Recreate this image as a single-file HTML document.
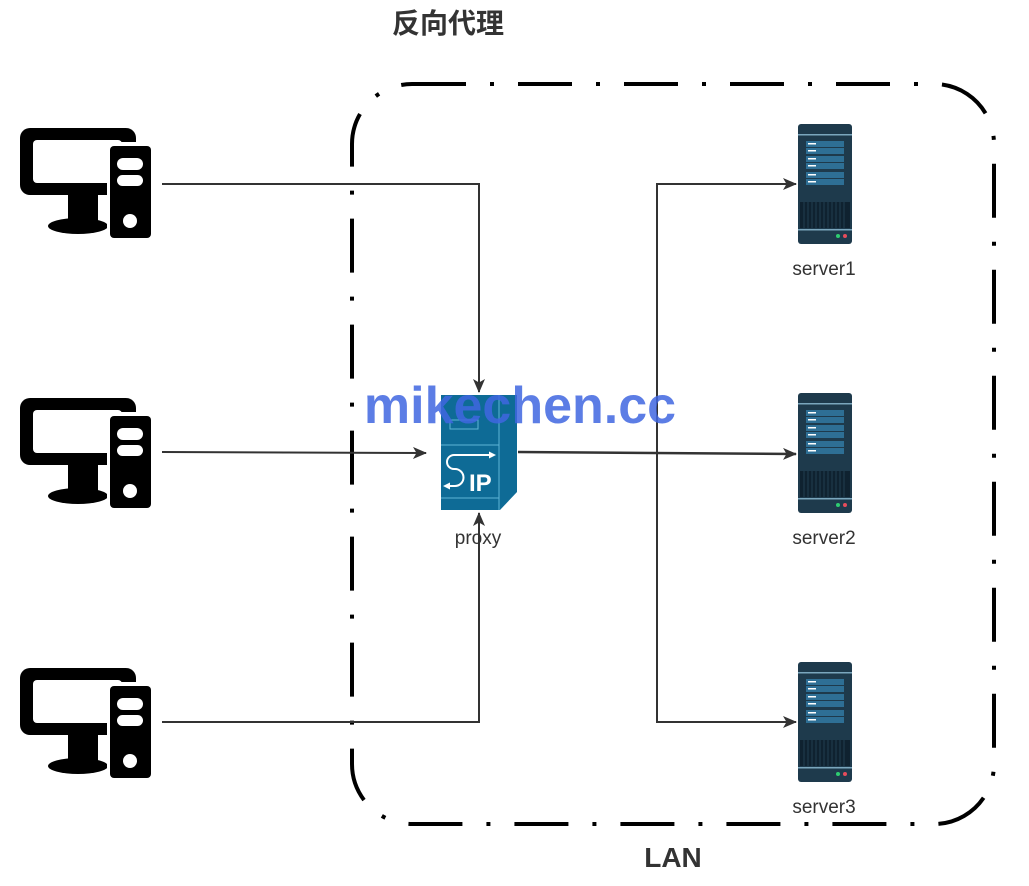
<!DOCTYPE html>
<html><head><meta charset="utf-8"><style>
html,body{margin:0;padding:0;background:#fff;}
svg{display:block;}
</style></head><body>
<svg width="1029" height="886" viewBox="0 0 1029 886" xmlns="http://www.w3.org/2000/svg">
<defs>
<g id="pc">
  <rect x="20" y="128" width="116" height="67" rx="10" fill="#000"/>
  <rect x="33" y="140" width="89" height="43" rx="4" fill="#fff"/>
  <rect x="68" y="192" width="30" height="30" fill="#000"/>
  <ellipse cx="78" cy="226" rx="30" ry="8" fill="#000"/>
  <rect x="107" y="142" width="47" height="100" fill="#fff"/>
  <rect x="110" y="146" width="41" height="92" rx="4" fill="#000"/>
  <rect x="117" y="158" width="26" height="12" rx="6" fill="#fff"/>
  <rect x="117" y="175" width="26" height="11" rx="5.5" fill="#fff"/>
  <circle cx="130" cy="221" r="7" fill="#fff"/>
</g>
<g id="srv">
  <rect x="798" y="124" width="54" height="120" rx="3" fill="#1e3a4c"/>
  <rect x="798" y="134" width="54" height="1.5" fill="#7aa6bd"/>
  <rect x="806" y="141" width="38" height="6" fill="#2e6f95"/>
  <rect x="806" y="148" width="38" height="6" fill="#2e6f95"/>
  <rect x="806" y="156" width="38" height="6" fill="#2e6f95"/>
  <rect x="806" y="163" width="38" height="6" fill="#2e6f95"/>
  <rect x="806" y="172" width="38" height="6" fill="#2e6f95"/>
  <rect x="806" y="179" width="38" height="6" fill="#2e6f95"/>
  <rect x="808" y="143" width="8" height="1.5" fill="#fff"/>
  <rect x="808" y="150" width="8" height="1.5" fill="#fff"/>
  <rect x="808" y="158" width="8" height="1.5" fill="#fff"/>
  <rect x="808" y="165" width="8" height="1.5" fill="#fff"/>
  <rect x="808" y="174" width="8" height="1.5" fill="#fff"/>
  <rect x="808" y="181" width="8" height="1.5" fill="#fff"/>
  <rect x="800" y="202" width="50" height="26" fill="#0f2230"/>
  <g stroke="#1e3a4c" stroke-width="1.2">
    <line x1="804" y1="202" x2="804" y2="228"/><line x1="808" y1="202" x2="808" y2="228"/>
    <line x1="812" y1="202" x2="812" y2="228"/><line x1="816" y1="202" x2="816" y2="228"/>
    <line x1="820" y1="202" x2="820" y2="228"/><line x1="824" y1="202" x2="824" y2="228"/>
    <line x1="828" y1="202" x2="828" y2="228"/><line x1="832" y1="202" x2="832" y2="228"/>
    <line x1="836" y1="202" x2="836" y2="228"/><line x1="840" y1="202" x2="840" y2="228"/>
    <line x1="844" y1="202" x2="844" y2="228"/>
  </g>
  <rect x="798" y="229" width="54" height="1.5" fill="#7aa6bd"/>
  <circle cx="838" cy="236" r="2" fill="#2ecc71"/>
  <circle cx="845" cy="236" r="2" fill="#e74c5c"/>
</g>
<marker id="ah" markerWidth="14" markerHeight="12" refX="13" refY="6" orient="auto" markerUnits="userSpaceOnUse">
  <path d="M0,0 L14,6 L0,12 L3.5,6 Z" fill="#333"/>
</marker>
</defs>

<text x="448" y="33" font-family="'Liberation Sans','Noto Sans CJK SC',sans-serif" font-size="28" font-weight="bold" fill="#333" text-anchor="middle">反向代理</text>

<rect x="352" y="84" width="642" height="740" rx="60" fill="none" stroke="#000" stroke-width="4" stroke-dasharray="54 24 4 24"/>

<use href="#pc"/>
<use href="#pc" y="270"/>
<use href="#pc" y="540"/>

<!-- proxy -->
<g>
  <polygon points="441,395 517,395 517,492 500,510 441,510" fill="#0e6b96"/>
  <line x1="499" y1="395" x2="499" y2="510" stroke="#5fb4d6" stroke-width="1"/>
  <line x1="441" y1="445" x2="499" y2="445" stroke="#5fb4d6" stroke-width="1"/>
  <line x1="441" y1="498" x2="499" y2="498" stroke="#5fb4d6" stroke-width="1"/>
  <rect x="450" y="420" width="28" height="9" fill="none" stroke="#5fb4d6" stroke-width="1"/>
  <path d="M490,455 H454 a7,7 0 0 0 0,14 H455 a8.5,8.5 0 0 1 0,17 H450" fill="none" stroke="#fff" stroke-width="2"/>
  <path d="M496,455 l-7,-3.5 v7 z M443,486 l7,-3.5 v7 z" fill="#fff"/>
  <text x="469" y="491" font-family="'Liberation Sans',sans-serif" font-size="24" font-weight="bold" fill="#fff">IP</text>
</g>

<g stroke="#333" stroke-width="2" fill="none">
  <polyline points="162,184 479,184 479,392" marker-end="url(#ah)"/>
  <line x1="162" y1="452" x2="426" y2="453" marker-end="url(#ah)"/>
  <polyline points="162,722 479,722 479,513" marker-end="url(#ah)"/>
  <line x1="518" y1="452" x2="796" y2="454" stroke-width="2.5" marker-end="url(#ah)"/>
  <polyline points="790,184 657,184 657,722 790,722"/>
  <line x1="700" y1="184" x2="796" y2="184" marker-end="url(#ah)"/>
  <line x1="700" y1="722" x2="796" y2="722" marker-end="url(#ah)"/>
</g>

<use href="#srv"/>
<use href="#srv" y="269"/>
<use href="#srv" y="538"/>

<g font-family="'Liberation Sans',sans-serif" font-size="19" fill="#333" text-anchor="middle">
  <text x="824" y="275">server1</text>
  <text x="824" y="544">server2</text>
  <text x="824" y="813">server3</text>
  <text x="478" y="544">proxy</text>
</g>

<text x="520" y="423" font-family="'Liberation Sans',sans-serif" font-size="52" font-weight="bold" fill="#3f66e0" fill-opacity="0.85" text-anchor="middle">mikechen.cc</text>

<text x="673" y="867" font-family="'Liberation Sans',sans-serif" font-size="28" font-weight="bold" fill="#333" text-anchor="middle">LAN</text>
</svg>
</body></html>
